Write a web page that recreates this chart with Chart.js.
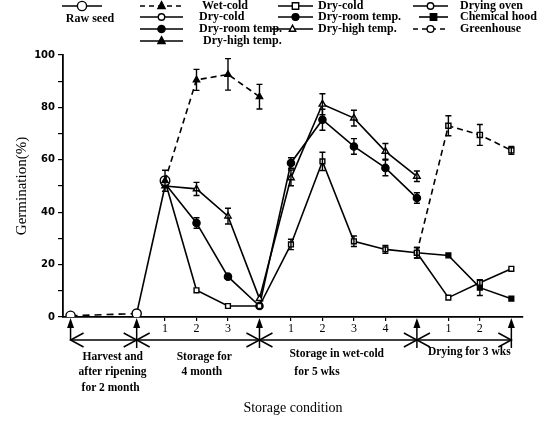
<!DOCTYPE html>
<html><head><meta charset="utf-8">
<script src="https://cdn.jsdelivr.net/npm/chart.js@4/dist/chart.umd.min.js"></script>
<style>html,body{margin:0;padding:0;background:#fff;}#wrap{width:548px;height:421px;position:relative;}</style>
</head><body><div id="wrap"><canvas id="c" width="548" height="421"></canvas></div>
<script>
// ---- data ----
const rawSeedX = [0, 2.1, 3];
const rawSeedY = [0.5, 1.3, 50];

const storageX = [3, 4, 5, 6];
const wetColdY = [52, 90.5, 92.6, 84.1];
const wetColdErr = [4, 4, 6, 4.7];
const dryCold1Y = [52, 10.2, 4.2, 4.2];
const dryCold1Err = [0, 0, 0, 0];
const dryRoom1Y = [51, 35.9, 15.4, 4.2];
const dryRoom1Err = [0, 2, 0, 0];
const dryHigh1Y = [50, 48.9, 38.5, 7];
const dryHigh1Err = [0, 2.5, 3, 0];

const wetColdWeeksX = [6, 7, 8, 9, 10, 11];
const dryCold2Y = [4.2, 27.7, 59.4, 28.9, 25.8, 24.5];
const dryCold2Err = [0, 2, 3.5, 2, 1.5, 2];
const dryRoom2Y = [4.2, 58.8, 75.3, 65.1, 56.9, 45.4];
const dryRoom2Err = [0, 2, 4, 3, 3, 2];
const dryHigh2Y = [7, 53.1, 81.2, 75.9, 63.2, 53.7];
const dryHigh2Err = [0, 3, 4, 3, 3, 2];

const dryingX = [11, 12, 13, 14];
const dryingOvenY = [24.5, 7.4, 13.1, 18.4];
const dryingOvenErr = [0, 0, 0, 0];
const chemHoodY = [24.5, 23.5, 11.2, 7.0];
const chemHoodErr = [2, 0, 3, 0];
const greenhouseY = [24.5, 73, 69.5, 63.6];
const greenhouseErr = [0, 3.8, 4, 1.5];

const xTickValues = [3, 4, 5, 7, 8, 9, 10, 12, 13];
const xTickLabels = ['1', '2', '3', '1', '2', '3', '4', '1', '2'];
const yTickLabelValues = [0, 20, 40, 60, 80, 100];
const stageBoundaries = [0, 2.1, 6, 11, 14];
const stageTexts = [
  ['Harvest and', 'after ripening', 'for 2 month'],
  ['Storage for', ' 4 month'],
  ['Storage in wet-cold', ' for 5 wks'],
  ['Drying for 3 wks']
];
const legendLabels = ['Raw seed', 'Wet-cold', 'Dry-cold', 'Dry-room temp.', 'Dry-high temp.',
  'Dry-cold', 'Dry-room temp.', 'Dry-high temp.', 'Drying oven', 'Chemical hood', 'Greenhouse'];

// ---- helpers ----
const pts = (xs, ys) => xs.map((x, i) => ({x: x, y: ys[i]}));
const BLACK = '#000', WHITE = '#fff';
function ds(label, xs, ys, errs, style, filled, dashed, radii) {
  return {
    label: label,
    data: pts(xs, ys),
    errors: errs,
    borderColor: BLACK,
    borderWidth: 1.6,
    borderDash: dashed ? [6, 4] : [],
    pointStyle: style,
    pointRadius: radii || 3.6,
    pointBorderWidth: 1.4,
    pointBorderColor: BLACK,
    pointBackgroundColor: filled ? BLACK : WHITE,
    fill: false,
    tension: 0,
    legendStyle: Array.isArray(style) ? style[style.length - 1] : style,
    legendFilled: filled,
    legendDashed: dashed
  };
}

const datasets = [
  Object.assign(ds(legendLabels[0], rawSeedX, rawSeedY, null, 'circle', false, false, [4.6, 4.6, 0]), {
    segment: { borderDash: c => c.p0DataIndex === 0 ? [7, 5] : undefined }
  }),
  ds(legendLabels[1], storageX, wetColdY, wetColdErr, 'triangle', true, true),
  ds(legendLabels[2], storageX, dryCold1Y, dryCold1Err, ['circle', 'rect', 'rect', 'rect'], false, false, [4.8, 3.4, 3.4, 3.4]),
  ds(legendLabels[3], storageX, dryRoom1Y, dryRoom1Err, 'circle', true, false),
  ds(legendLabels[4], storageX, dryHigh1Y, dryHigh1Err, 'triangle', false, false),
  ds(legendLabels[5], wetColdWeeksX, dryCold2Y, dryCold2Err, 'rect', false, false, [0, 3.4, 3.4, 3.4, 3.4, 3.4]),
  ds(legendLabels[6], wetColdWeeksX, dryRoom2Y, dryRoom2Err, 'circle', true, false, [0, 3.6, 3.6, 3.6, 3.6, 3.6]),
  ds(legendLabels[7], wetColdWeeksX, dryHigh2Y, dryHigh2Err, 'triangle', false, false, [0, 3.8, 3.8, 3.8, 3.8, 3.8]),
  ds(legendLabels[8], dryingX, dryingOvenY, dryingOvenErr, 'rect', false, false, [0, 3.4, 3.4, 3.4]),
  ds(legendLabels[9], dryingX, chemHoodY, chemHoodErr, 'rect', true, false, [3.4, 3.4, 3.4, 3.4]),
  ds(legendLabels[10], dryingX, greenhouseY, greenhouseErr, 'rect', false, true, [0, 3.6, 3.6, 3.6])
];

// ---- plugins ----
const errorBars = {
  id: 'errorBars',
  afterDatasetsDraw(chart) {
    const ctx = chart.ctx, ys = chart.scales.y;
    ctx.save();
    ctx.strokeStyle = BLACK; ctx.lineWidth = 1.4; ctx.setLineDash([]);
    chart.data.datasets.forEach((d, di) => {
      if (!d.errors) return;
      const meta = chart.getDatasetMeta(di);
      d.errors.forEach((e, i) => {
        if (!e) return;
        const el = meta.data[i];
        const v = d.data[i].y;
        const x = el.x, t = ys.getPixelForValue(v + e), b = ys.getPixelForValue(v - e);
        ctx.beginPath();
        ctx.moveTo(x, t); ctx.lineTo(x, b);
        ctx.moveTo(x - 3, t); ctx.lineTo(x + 3, t);
        ctx.moveTo(x - 3, b); ctx.lineTo(x + 3, b);
        ctx.stroke();
      });
    });
    ctx.restore();
  }
};

function drawMarker(ctx, style, x, y, r, filled) {
  ctx.beginPath();
  if (style === 'circle') ctx.arc(x, y, r, 0, Math.PI * 2);
  else if (style === 'rect') ctx.rect(x - r, y - r, 2 * r, 2 * r);
  else if (style === 'triangle') { ctx.moveTo(x, y - r * 1.2); ctx.lineTo(x + r, y + r * 0.7); ctx.lineTo(x - r, y + r * 0.7); ctx.closePath(); }
  ctx.fillStyle = filled ? BLACK : WHITE; ctx.fill();
  ctx.lineWidth = 1.4; ctx.strokeStyle = BLACK; ctx.stroke();
}

const legendLayout = [
  {x0: 62, x1: 102, y: 6, tx: 90, ty: 19, center: true, r: 4.6},
  {x0: 140, x1: 183, y: 6, tx: 202, ty: 6, r: 3.6},
  {x0: 140, x1: 183, y: 17, tx: 199, ty: 17, r: 3.2, style: 'circle'},
  {x0: 140, x1: 183, y: 29, tx: 199, ty: 29, r: 3.6},
  {x0: 140, x1: 183, y: 41, tx: 203, ty: 41, r: 3.6, filled: true},
  {x0: 278, x1: 313, y: 6, tx: 318, ty: 6, r: 3.2},
  {x0: 278, x1: 313, y: 17, tx: 318, ty: 17, r: 3.4},
  {x0: 272, x1: 313, y: 29, tx: 318, ty: 29, r: 3.2},
  {x0: 413, x1: 448, y: 6, tx: 460, ty: 6, r: 3.2, style: 'circle'},
  {x0: 419, x1: 448, y: 17, tx: 460, ty: 17, r: 3.2},
  {x0: 413, x1: 448, y: 29, tx: 460, ty: 29, r: 3.4, style: 'circle'}
];

const customLegend = {
  id: 'customLegend',
  afterDraw(chart) {
    const ctx = chart.ctx;
    ctx.save();
    chart.data.datasets.forEach((d, i) => {
      const L = legendLayout[i];
      ctx.strokeStyle = BLACK; ctx.lineWidth = 1.6;
      ctx.setLineDash(d.legendDashed ? [5, 4] : []);
      ctx.beginPath(); ctx.moveTo(L.x0, L.y); ctx.lineTo(L.x1, L.y); ctx.stroke();
      ctx.setLineDash([]);
      const filled = L.filled !== undefined ? L.filled : d.legendFilled;
      drawMarker(ctx, L.style || d.legendStyle, (L.x0 + L.x1) / 2, L.y, L.r, filled);
      ctx.fillStyle = BLACK;
      ctx.font = 'bold 12px "Liberation Serif"';
      ctx.textBaseline = 'middle';
      ctx.textAlign = L.center ? 'center' : 'left';
      ctx.fillText(d.label, L.tx, L.ty);
    });
    ctx.restore();
  }
};

const stageAnnot = {
  id: 'stageAnnot',
  afterDraw(chart) {
    const ctx = chart.ctx, xs = chart.scales.x, ys = chart.scales.y;
    const axisY = ys.getPixelForValue(0);
    const lineY = axisY + 23;
    const px = stageBoundaries.map(v => xs.getPixelForValue(v));
    ctx.save();
    ctx.strokeStyle = BLACK; ctx.fillStyle = BLACK; ctx.lineWidth = 1.5; ctx.setLineDash([]);
    ctx.beginPath(); ctx.moveTo(px[0], lineY); ctx.lineTo(px[px.length - 1], lineY); ctx.stroke();
    px.forEach((x, i) => {
      const bottom = i === 0 ? lineY : lineY + 8;
      ctx.beginPath(); ctx.moveTo(x, bottom); ctx.lineTo(x, axisY + 6); ctx.stroke();
      ctx.beginPath(); ctx.moveTo(x, axisY + 1); ctx.lineTo(x - 3.5, axisY + 11); ctx.lineTo(x + 3.5, axisY + 11); ctx.closePath(); ctx.fill();
      if (i > 0) { ctx.beginPath(); ctx.moveTo(x - 13, lineY - 7); ctx.lineTo(x, lineY); ctx.lineTo(x - 13, lineY + 7); ctx.stroke(); }
      if (i < px.length - 1) { ctx.beginPath(); ctx.moveTo(x + 13, lineY - 7); ctx.lineTo(x, lineY); ctx.lineTo(x + 13, lineY + 7); ctx.stroke(); }
    });
    ctx.font = 'bold 11.5px "Liberation Serif"';
    ctx.textBaseline = 'middle'; ctx.textAlign = 'left';
    const offs = [[12, 40], [40, 40], [30, 40], [11, 0]];
    const rowsY = [[357, 372, 388], [357, 372], [354, 372], [352]];
    stageTexts.forEach((lines, s) => {
      lines.forEach((t, j) => {
        const dx = j === 0 ? 0 : (s === 0 ? [0, -4, -1][j] : 2);
        ctx.fillText(t, px[s] + offs[s][0] + dx, rowsY[s][j]);
      });
    });
    ctx.restore();
  }
};

new Chart(document.getElementById('c'), {
  type: 'line',
  data: { datasets: datasets },
  options: {
    responsive: false,
    animation: false,
    devicePixelRatio: 1,
    layout: { padding: { top: 55, right: 25, left: 0, bottom: 0 } },
    plugins: { legend: { display: false }, tooltip: { enabled: false } },
    scales: {
      x: {
        type: 'linear', min: -0.24, max: 14.37,
        afterBuildTicks: s => { s.ticks = xTickValues.map(v => ({value: v})); },
        afterFit: s => { s.height = 104; },
        ticks: {
          autoSkip: false, maxRotation: 0, padding: 1, color: BLACK,
          font: { family: '"Liberation Serif"', size: 12 },
          callback: (v) => { const k = xTickValues.indexOf(v); return k >= 0 ? xTickLabels[k] : ''; }
        },
        grid: { display: true, drawOnChartArea: false, tickLength: 4, color: BLACK, lineWidth: 1.2 },
        border: { display: true, color: BLACK, width: 1.8 },
        title: { display: true, text: 'Storage condition', color: BLACK,
          font: { family: '"Liberation Serif"', size: 14 }, padding: { top: 0, bottom: 4 } }
      },
      y: {
        min: 0, max: 100,
        afterBuildTicks: s => { const t = []; for (let v = 0; v <= 100; v += 10) t.push({value: v}); s.ticks = t; },
        afterFit: s => { s.width = 63; },
        ticks: {
          padding: 3, color: BLACK,
          font: { family: '"DejaVu Sans"', size: 10, weight: 'bold' },
          callback: v => yTickLabelValues.includes(v) ? String(v) : ''
        },
        grid: { display: true, drawOnChartArea: false, tickLength: 5, color: BLACK, lineWidth: 1.2 },
        border: { display: true, color: BLACK, width: 1.8 },
        title: { display: true, text: 'Germination(%)', color: BLACK,
          font: { family: '"Liberation Serif"', size: 15 }, padding: { top: 13, bottom: 0 } }
      }
    }
  },
  plugins: [errorBars, customLegend, stageAnnot]
});
</script>
</body></html>
